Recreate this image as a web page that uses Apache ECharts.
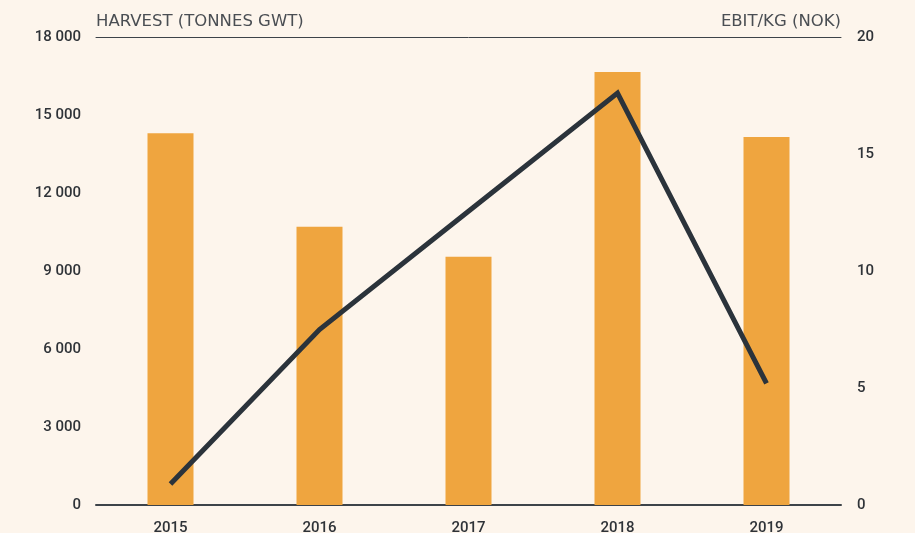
<!DOCTYPE html>
<html>
<head>
<meta charset="utf-8">
<script src="https://cdn.jsdelivr.net/npm/echarts@6/dist/echarts.min.js"></script>
<style>
  html, body { margin: 0; padding: 0; background: #fdf5ec; }
  #chart { width: 915px; height: 533px; }
</style>
</head>
<body>
<div id="chart"></div>
<script>
// Harvest volume (bars, left axis) and EBIT per kg (line, right axis)
const years = ['2015', '2016', '2017', '2018', '2019'];
const harvestTonnes = [14300, 10700, 9550, 16650, 14150];
const ebitPerKg = [0.9, 7.5, 12.55, 17.6, 5.2];
const harvestTicks = [0, 3000, 6000, 9000, 12000, 15000, 18000];
const ebitTicks = [0, 5, 10, 15, 20];

const labelFont = { fontFamily: 'Roboto', fontWeight: 500, fontSize: 15, color: '#2f3338' };
const nameFont = { fontFamily: 'DejaVu Sans', fontSize: 16.5, color: '#4a4e53' };

const chart = echarts.init(document.getElementById('chart'));
chart.setOption({
  backgroundColor: '#fdf5ec',
  animation: false,
  grid: { left: 96, right: 74, top: 37, bottom: 28, containLabel: false, outerBoundsMode: 'none' },
  xAxis: [
    {
      type: 'category',
      data: years,
      axisLine: { onZero: false, lineStyle: { color: '#3d4349', width: 2 } },
      axisTick: { show: false },
      axisLabel: Object.assign({ margin: 16 }, labelFont)
    },
    {
      // thin rule along the top of the plot
      type: 'category',
      position: 'top',
      data: years,
      axisLine: { onZero: false, lineStyle: { color: '#3d4349', width: 1 } },
      axisTick: { show: false },
      axisLabel: { show: false }
    }
  ],
  yAxis: [
    {
      type: 'value',
      min: harvestTicks[0],
      max: harvestTicks[harvestTicks.length - 1],
      interval: harvestTicks[1] - harvestTicks[0],
      name: 'HARVEST (TONNES GWT)',
      nameLocation: 'end',
      nameGap: 7,
      nameTextStyle: Object.assign({ align: 'left' }, nameFont),
      axisLine: { show: false },
      axisTick: { show: false },
      splitLine: { show: false },
      axisLabel: Object.assign({
        margin: 15,
        formatter: v => String(v).replace(/\B(?=(\d{3})+(?!\d))/g, ' ')
      }, labelFont)
    },
    {
      type: 'value',
      min: ebitTicks[0],
      max: ebitTicks[ebitTicks.length - 1],
      interval: ebitTicks[1] - ebitTicks[0],
      name: 'EBIT/KG (NOK)',
      nameLocation: 'end',
      nameGap: 7,
      nameTextStyle: Object.assign({ align: 'right' }, nameFont),
      axisLine: { show: false },
      axisTick: { show: false },
      splitLine: { show: false },
      axisLabel: Object.assign({ margin: 16 }, labelFont)
    }
  ],
  series: [
    {
      type: 'bar',
      data: harvestTonnes,
      yAxisIndex: 0,
      barWidth: 46,
      itemStyle: { color: '#efa53f' },
      z: 1
    },
    {
      type: 'line',
      data: ebitPerKg,
      yAxisIndex: 1,
      symbol: 'none',
      lineStyle: { color: '#2b333b', width: 5, cap: 'butt', join: 'miter' },
      z: 3
    }
  ]
});
</script>
</body>
</html>
